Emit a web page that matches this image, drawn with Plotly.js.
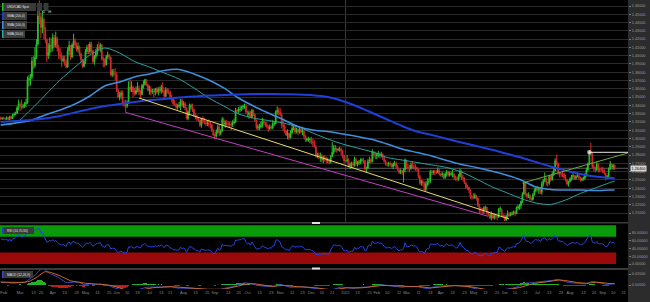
<!DOCTYPE html>
<html><head><meta charset="utf-8">
<script src="https://cdn.plot.ly/plotly-3.0.1.min.js"></script>
<style>html,body{margin:0;padding:0;background:#000;overflow:hidden}#chart{width:650px;height:302px}</style>
</head><body><div id="chart"></div>
<script>
// ---------- DATA (prices in 1e-4 units) ----------
const firstDay = '2020-02-12';
const warmupClose = [13060,13060,13060,13050,13060,13060,13110,13080,13140,13150,13180,13170,13180,13220,13235,13300,13290,13290,13300,13310,13310,13250];
const closeP = [
13240,13245,13240,13235,13250,13230,13265,13240,13285,13290,13305,13370,13415,
13390,13380,13385,13420,13430,13710,13720,13740,13935,13880,13980,14140,14480,14470,14340,14440,14320,14190,14000,14040,14130,14090,
14220,14130,14210,14090,14010,13990,13940,13960,13910,13860,14060,14120,13985,14130,14180,14130,14080,14110,14020,13950,13870,13930,
14050,14100,14050,14140,14060,13930,13990,14040,14100,14090,14130,13960,13950,13890,13990,14010,13980,13770,13810,13770,13770,
13580,13500,13520,13550,13430,13410,13390,13420,13620,13590,13620,13560,13540,13580,13610,13560,13530,13640,13650,13710,13650,13580,
13590,13560,13570,13560,13600,13560,13600,13570,13620,13560,13510,13590,13560,13560,13490,13480,13420,13410,13380,13390,13400,13460,13400,
13420,13370,13240,13320,13390,13390,13350,13280,13260,13240,13220,13160,13240,13210,13190,13180,13190,13170,13170,13100,13040,
13030,13080,13140,13060,13090,13230,13170,13190,13180,13170,13170,13160,13190,13200,13340,13330,13350,13350,13380,13390,13390,13320,
13290,13310,13260,13340,13290,13220,13130,13140,13140,13160,13210,13180,13170,13140,13120,13140,13130,13180,13180,13320,13340,13320,
13290,13160,13150,13090,13040,13060,13010,13070,13120,13130,13080,13110,13080,13110,13080,13090,13030,12980,12990,12990,12990,
12960,12950,12900,12790,12800,12790,12800,12740,12770,12750,12730,12740,12710,12780,12830,12880,12880,12860,12870,12870,12850,12790,12730,
12730,12740,12670,12680,12690,12680,12750,12690,12710,12710,12740,12740,12730,12630,12640,12720,12740,12720,12840,12800,12790,
12800,12820,12790,12810,12770,12720,12690,12690,12700,12690,12660,12690,12700,12660,12620,12590,12610,12590,12620,12740,
12650,12650,12640,12680,12660,12650,12650,12630,12540,12460,12480,12460,12380,12450,12480,12480,12600,12590,12600,12590,12590,12620,12570,
12560,12570,12530,12570,12600,12560,12570,12570,12570,12530,12510,12510,12540,12610,12530,12520,12460,12410,12410,12380,12300,12290,
12280,12310,12280,12190,12150,12140,12130,12160,12170,12110,12080,12040,12090,12040,12070,12050,12050,12150,12150,12070,12060,
12010,12060,12090,12070,12090,12090,12110,12090,12160,12170,12190,12240,12330,12465,12330,12300,12310,12270,12260,12320,12370,12400,
12380,12400,12350,12450,12490,12520,12470,12460,12540,12500,12560,12610,12730,12700,12590,12570,12570,12570,12530,12500,12450,12480,
12510,12540,12550,12520,12540,12550,12520,12500,12510,12520,12550,12620,12690,12840,12820,12660,12640,12620,12690,12620,12620,12620,
12620,12580,12530,12540,12630,12690,12650,12680,12640];
const highP = [
13265,13260,13262,13255,13268,13260,13275,13270,13300,13315,13325,13390,13470,
13440,13470,13420,13440,13480,13750,13770,13780,13985,14000,14100,14200,14550,14667,14520,14540,14460,14350,14210,14150,14220,14210,
14270,14250,14290,14230,14130,14090,14040,14000,14000,13950,14100,14180,14130,14150,14265,14210,14160,14160,14120,14040,13960,13950,
14080,14130,14140,14170,14170,14060,14010,14080,14140,14170,14150,14140,13990,13970,14010,14050,14020,13990,13840,13840,13850,
13800,13600,13560,13580,13580,13460,13470,13460,13690,13720,13690,13640,13610,13630,13680,13640,13590,13660,13700,13720,13715,13660,
13640,13630,13600,13600,13610,13620,13620,13630,13650,13680,13590,13620,13610,13600,13580,13530,13500,13470,13430,13420,13440,13480,13480,
13450,13440,13380,13340,13420,13420,13420,13360,13300,13290,13260,13230,13250,13270,13250,13220,13220,13230,13200,13180,13110,
13070,13110,13170,13170,13110,13260,13250,13220,13220,13210,13200,13200,13220,13240,13370,13360,13380,13400,13390,13410,13420,13420,
13340,13340,13330,13360,13350,13300,13230,13170,13180,13200,13250,13230,13200,13200,13160,13170,13160,13220,13210,13340,13390,13370,
13370,13300,13240,13170,13100,13110,13070,13100,13160,13170,13150,13130,13120,13140,13120,13140,13100,13040,13010,13020,13010,
13020,13000,12980,12920,12830,12830,12830,12810,12790,12800,12780,12770,12750,12800,12955,12920,12920,12890,12880,12900,12890,12860,12800,
12740,12800,12760,12710,12720,12720,12780,12770,12730,12740,12760,12760,12770,12740,12660,12750,12780,12760,12870,12850,12840,
12830,12850,12830,12840,12820,12790,12740,12710,12720,12720,12700,12710,12730,12720,12680,12630,12630,12620,12640,12760,
12730,12690,12680,12710,12720,12700,12690,12660,12630,12560,12500,12500,12480,12480,12520,12520,12620,12620,12620,12620,12620,12650,12630,
12580,12600,12580,12590,12620,12610,12600,12600,12620,12580,12550,12540,12570,12640,12600,12560,12530,12470,12440,12420,12380,12320,
12340,12340,12320,12290,12210,12170,12160,12180,12190,12170,12120,12090,12120,12090,12090,12090,12080,12160,12180,12150,12090,
12080,12080,12130,12110,12110,12120,12130,12130,12180,12200,12210,12250,12350,12490,12460,12340,12350,12330,12290,12340,12400,12420,
12430,12420,12410,12480,12510,12590,12530,12480,12560,12560,12600,12650,12760,12807,12710,12600,12590,12600,12590,12560,12510,12490,
12530,12560,12580,12560,12560,12590,12570,12540,12530,12540,12580,12650,12710,12860,12949,12820,12690,12660,12720,12700,12650,12650,
12660,12630,12580,12560,12650,12730,12700,12690,12680];
const lowP = [
13220,13225,13228,13222,13225,13218,13225,13230,13235,13265,13280,13295,13340,
13330,13350,13360,13370,13380,13420,13630,13640,13720,13840,13850,13960,14120,14380,14210,14270,14200,14150,13920,13960,14000,14040,
14050,14100,14100,14050,13960,13950,13860,13920,13880,13850,13860,14010,13950,13970,14090,14090,14050,14040,13990,13920,13850,13860,
13900,14020,14020,14020,14030,13900,13890,13960,14000,14060,14040,13940,13860,13860,13880,13960,13950,13750,13740,13750,13700,
13560,13490,13460,13480,13400,13380,13315,13370,13420,13560,13560,13490,13520,13530,13560,13520,13490,13520,13600,13640,13630,13570,
13530,13520,13540,13500,13520,13540,13520,13550,13540,13550,13490,13500,13540,13530,13470,13440,13400,13390,13350,13350,13370,13340,13380,
13370,13340,13230,13220,13280,13350,13320,13260,13230,13210,13200,13140,13130,13180,13170,13150,13150,13140,13120,13080,13030,
12994,13010,13060,13030,13040,13080,13150,13130,13150,13140,13140,13100,13140,13170,13190,13300,13300,13320,13330,13350,13360,13300,
13260,13240,13250,13240,13270,13200,13110,13100,13100,13120,13130,13160,13140,13120,13080,13100,13110,13110,13150,13170,13290,13280,
13270,13120,13090,13060,13030,12990,12980,13000,13050,13100,13050,13060,13040,13060,13060,13040,13000,12960,12960,12960,12940,
12930,12900,12890,12770,12760,12750,12720,12710,12700,12720,12700,12700,12690,12700,12780,12810,12840,12830,12850,12840,12800,12760,12700,
12720,12710,12650,12630,12650,12640,12660,12670,12660,12680,12690,12710,12700,12610,12590,12640,12700,12690,12710,12760,12750,
12750,12770,12760,12770,12740,12710,12670,12660,12660,12660,12650,12630,12670,12640,12610,12570,12570,12560,12470,12590,
12630,12610,12590,12620,12640,12620,12610,12600,12520,12440,12430,12420,12370,12365,12420,12440,12460,12560,12560,12560,12570,12580,12550,
12540,12530,12510,12510,12540,12540,12540,12550,12530,12500,12490,12480,12490,12530,12500,12480,12450,12390,12380,12340,12270,12260,
12270,12270,12250,12170,12090,12100,12090,12090,12130,12080,12060,12030,12010,12030,12020,12030,12010,12040,12110,12060,12040,
12007,12020,12030,12050,12060,12070,12080,12060,12090,12140,12140,12150,12220,12320,12310,12270,12280,12250,12250,12250,12310,12350,
12360,12330,12330,12320,12420,12470,12430,12420,12440,12480,12490,12550,12600,12680,12560,12530,12530,12530,12510,12480,12430,12420,
12470,12490,12500,12500,12500,12530,12500,12480,12480,12490,12500,12540,12600,12680,12790,12640,12600,12590,12610,12590,12590,12600,
12580,12560,12494,12510,12530,12620,12630,12620,12620];

const smaDates = ['2020-02-12','2020-02-26','2020-03-11','2020-03-25','2020-04-08','2020-04-22','2020-05-06','2020-05-20','2020-06-03','2020-06-17','2020-07-01','2020-07-15','2020-07-29','2020-08-12','2020-08-26','2020-09-09','2020-09-23','2020-10-07','2020-10-21','2020-11-04','2020-11-18','2020-12-02','2020-12-16','2020-12-30','2021-01-13','2021-01-27','2021-02-10','2021-02-24','2021-03-10','2021-03-24','2021-04-07','2021-04-21','2021-05-05','2021-05-19','2021-06-02','2021-06-16','2021-06-30','2021-07-14','2021-07-28','2021-08-11','2021-08-25','2021-09-08','2021-09-13'];
const sma200 = [1.3199,1.3211,1.3223,1.3241,1.3271,1.3314,1.3356,1.3392,1.3416,1.3441,1.3465,1.3477,1.3495,1.3507,1.3519,1.3525,1.3531,1.3537,1.3537,1.3535,1.3531,1.3523,1.3501,1.3453,1.3386,1.3308,1.3229,1.3151,1.3084,1.3042,1.2996,1.2951,1.2909,1.2866,1.2818,1.2770,1.2716,1.2661,1.2613,1.2571,1.2541,1.2523,1.2521];
const sma100 = [1.3163,1.3187,1.3217,1.3284,1.3344,1.3416,1.3513,1.3634,1.3682,1.3743,1.3779,1.3821,1.3833,1.3779,1.3706,1.3610,1.3489,1.3392,1.3308,1.3229,1.3145,1.3102,1.3084,1.3054,1.3024,1.2988,1.2933,1.2873,1.2831,1.2788,1.2734,1.2686,1.2650,1.2607,1.2559,1.2499,1.2414,1.2384,1.2378,1.2378,1.2372,1.2378,1.2378];
const sma50 = [1.3163,1.3187,1.3344,1.3525,1.3706,1.3863,1.4008,1.4093,1.4032,1.3930,1.3863,1.3791,1.3718,1.3610,1.3489,1.3392,1.3296,1.3247,1.3217,1.3187,1.3139,1.3066,1.2994,1.2933,1.2885,1.2837,1.2770,1.2740,1.2710,1.2680,1.2650,1.2595,1.2511,1.2420,1.2348,1.2275,1.2221,1.2203,1.2257,1.2336,1.2402,1.2468,1.2486];

// Drawn trend lines [dates], [prices]
const yellowDates = ['2020-06-22','2021-06-04'], yellowPx = [1.3489,1.2028];
const magentaDates = ['2020-06-09','2021-05-17'], magentaPx = [1.3315,1.2060];
const greenDates = ['2021-06-17','2021-09-24'], greenPx = [1.2462,1.2825];
const whiteDates = ['2021-08-19','2021-09-24'], whitePx = [1.2833,1.2833];

// Axis ticks
const priceTicks = [1.21,1.22,1.23,1.24,1.25,1.26,1.27,1.28,1.29,1.30,1.31,1.32,1.33,1.34,1.35,1.36,1.37,1.38,1.39,1.40,1.41,1.42,1.43,1.44,1.45,1.46];
const rsiTicks = [0,20,40,60,80];
const macdTicks = [0,0.02];
const tickDates = ['2020-02-14','2020-03-02','2020-03-13','2020-03-20','2020-04-01','2020-04-13','2020-04-23','2020-05-01','2020-05-13','2020-05-25','2020-06-01','2020-06-10','2020-06-19','2020-07-01','2020-07-13','2020-07-21','2020-08-03','2020-08-13','2020-08-25','2020-09-01','2020-09-14','2020-09-23','2020-10-01','2020-10-13','2020-10-23','2020-11-02','2020-11-12','2020-11-23','2020-12-01','2020-12-10','2020-12-21','2021-01-01','2021-01-13','2021-01-25','2021-02-01','2021-02-10','2021-02-22','2021-03-01','2021-03-11','2021-03-23','2021-04-01','2021-04-13','2021-04-23','2021-05-03','2021-05-13','2021-05-25','2021-06-01','2021-06-10','2021-06-21','2021-07-01','2021-07-13','2021-07-23','2021-08-02','2021-08-13','2021-08-24','2021-09-01','2021-09-10','2021-09-21'];
const tickText = ['Feb','Mar','13','20','Apr','13','23','May','13','25','Jun','10','19','Jul','13','21','Aug','13','25','Sep','14','23','Oct','13','23','Nov','12','23','Dec','10','21','2021','13','25','Feb','10','22','Mar','11','23','Apr','13','23','May','13','25','Jun','10','21','Jul','13','23','Aug','13','24','Sep','10','21'];

const RSI_N = 14, RSI_HI = 70, RSI_LO = 30;
const MACD_F = 12, MACD_S = 26, MACD_SIG = 9;

// ---------- BUILD ----------
function tradingDays(start, n){const out=[];const d=new Date(start+'T00:00:00Z');while(out.length<n){const w=d.getUTCDay();if(w!==0&&w!==6)out.push(d.toISOString().slice(0,10));d.setUTCDate(d.getUTCDate()+1);}return out;}
const N = closeP.length;
const dates = tradingDays(firstDay, N);
const close = closeP.map(v=>v/1e4);
const open = close.map((c,i)=> i===0 ? warmupClose[warmupClose.length-1]/1e4 : close[i-1]);
const high = highP.map((h,i)=>Math.max(h/1e4, open[i], close[i]));
const low = lowP.map((l,i)=>Math.min(l/1e4, open[i], close[i]));

const allC = warmupClose.map(v=>v/1e4).concat(close);
function rsiCalc(a,n){const out=new Array(a.length).fill(null);let g=0,l=0;for(let i=1;i<=n;i++){const d=a[i]-a[i-1];if(d>0)g+=d;else l-=d;}g/=n;l/=n;out[n]=100-100/(1+g/l);for(let i=n+1;i<a.length;i++){const d=a[i]-a[i-1];g=(g*(n-1)+Math.max(d,0))/n;l=(l*(n-1)+Math.max(-d,0))/n;out[i]=l===0?100:100-100/(1+g/l);}return out;}
function ema(a,n){const k=2/(n+1);const out=[a[0]];for(let i=1;i<a.length;i++)out.push(a[i]*k+out[i-1]*(1-k));return out;}
const W0 = warmupClose.length;
const rsi = rsiCalc(allC,RSI_N).slice(W0);
const e1=ema(allC,MACD_F), e2=ema(allC,MACD_S);
const macdAll = e1.map((v,i)=>v-e2[i]);
const sigAll = ema(macdAll,MACD_SIG);
const macd = macdAll.slice(W0), sig = sigAll.slice(W0);
const hist = macd.map((v,i)=>v-sig[i]);
const last = close[N-1];

// pixel helpers
const W=650,H=302,ML=0,MR=22,MT=0,MB=13, PW=W-ML-MR, PH=H-MT-MB;
const PY = p => (PH - (p-MT))/PH;
const PX = p => (p-ML)/PW;
const FONT = 'Liberation Sans, Arial, sans-serif';

const GREEN='#27c427', RED='#d42a2a';
const C200='#1f3fd6', C100='#3f8fdc', C50='#2aa3a3';

const traces = [
 {type:'candlestick', x:dates, open, high, low, close, xaxis:'x', yaxis:'y', hoverinfo:'skip', whiskerwidth:0,
  increasing:{line:{color:GREEN,width:1}, fillcolor:GREEN}, decreasing:{line:{color:RED,width:1}, fillcolor:RED}},
 {type:'scatter', mode:'lines', x:smaDates, y:sma50, line:{color:C50,width:1,shape:'spline',smoothing:0.8}, yaxis:'y', hoverinfo:'skip'},
 {type:'scatter', mode:'lines', x:smaDates, y:sma100, line:{color:C100,width:1.5,shape:'spline',smoothing:0.8}, yaxis:'y', hoverinfo:'skip'},
 {type:'scatter', mode:'lines', x:smaDates, y:sma200, line:{color:C200,width:2,shape:'spline',smoothing:0.8}, yaxis:'y', hoverinfo:'skip'},
 {type:'scatter', mode:'lines', x:yellowDates, y:yellowPx, line:{color:'#e6dc6a',width:1}, yaxis:'y', hoverinfo:'skip'},
 {type:'scatter', mode:'lines', x:magentaDates, y:magentaPx, line:{color:'#c43fc4',width:1}, yaxis:'y', hoverinfo:'skip'},
 {type:'scatter', mode:'lines', x:greenDates, y:greenPx, line:{color:'#6aa83a',width:1}, yaxis:'y', hoverinfo:'skip'},
 {type:'scatter', mode:'lines+markers', x:whiteDates, y:whitePx, line:{color:'#e8e8e8',width:1}, marker:{symbol:'square',size:[3,0],color:'#fff'}, yaxis:'y', hoverinfo:'skip'},
 {type:'scatter', mode:'lines', x:dates, y:rsi, line:{color:'#2246e0',width:1}, yaxis:'y2', hoverinfo:'skip'},
 {type:'bar', x:dates, y:hist, marker:{color:hist.map(v=>v>=0?'#22b422':'#c41c1c'), line:{width:0}}, yaxis:'y3', hoverinfo:'skip'},
 {type:'scatter', mode:'lines', x:dates, y:macd, line:{color:'#3648c8',width:1}, yaxis:'y3', hoverinfo:'skip'},
 {type:'scatter', mode:'lines', x:dates, y:sig, line:{color:'#c8682a',width:1}, yaxis:'y3', hoverinfo:'skip'}
];

const tickFont = {family:FONT, size:3.8, color:'#9a9a9a'};
const yBase = {side:'right', anchor:'x', tickformat:'.5f', tickfont:tickFont, zeroline:false, showline:false, ticks:'outside', ticklen:2, tickcolor:'#777', fixedrange:true};

const shapes = [];
function rectPx(x0,x1,y0,y1,color){shapes.push({type:'rect',xref:'paper',yref:'paper',x0:PX(x0),x1:PX(x1),y0:PY(y1),y1:PY(y0),fillcolor:color,line:{width:0},layer:'above'});}
// right axis panel
shapes.push({type:'rect',xref:'paper',yref:'paper',x0:1,x1:PX(W),y0:PY(H),y1:1,fillcolor:'#2c2c2c',line:{width:0},layer:'below'});
// RSI zones
const xStart='2020-02-11 12:00', xEnd='2021-09-24';
shapes.push({type:'rect',xref:'x',yref:'y2',x0:xStart,x1:'2021-09-14',y0:RSI_HI,y1:100,fillcolor:'#0a9a0a',line:{width:0},layer:'below'});
shapes.push({type:'rect',xref:'x',yref:'y2',x0:xStart,x1:'2021-09-14',y0:0,y1:RSI_LO,fillcolor:'#9a0a0a',line:{width:0},layer:'below'});
// year divider and last-price line
shapes.push({type:'line',xref:'x',yref:'paper',x0:'2021-01-01',x1:'2021-01-01',y0:PY(222),y1:1,line:{color:'#3a3a3a',width:1},layer:'below'});
shapes.push({type:'line',xref:'paper',yref:'y',x0:0,x1:1,y0:last,y1:last,line:{color:'#5c5c5c',width:1},layer:'below'});
// panel separators + handles
rectPx(0,PW,222,223.5,'#3a3a3a');
rectPx(0,PW,268,270,'#3a3a3a');
rectPx(312,320,222,224,'#e0e0e0');
rectPx(312,320,267.5,269.5,'#e0e0e0');
// legend boxes
const legends = [
 {t:'USD/CAD Spot', y0:3, y1:11, x1:36, c:GREEN},
 {t:'SMA (200,0)', y0:12, y1:20, x1:27, c:C200},
 {t:'SMA (100,0)', y0:21, y1:29, x1:27, c:C100},
 {t:'SMA (50,0)', y0:30, y1:38, x1:25, c:C50},
 {t:'RSI (14,70,30)', y0:227, y1:234, x1:34, c:'#2246e0'},
 {t:'MACD (12,26,9)', y0:271, y1:278, x1:33, c:'#3648c8'}
];
const annotations = [];
legends.forEach(l=>{
  rectPx(2,l.x1,l.y0,l.y1,'#3a3a3a');
  rectPx(2,3.5,l.y0,l.y1,l.c);
  annotations.push({xref:'paper',yref:'paper',x:PX(5),y:PY((l.y0+l.y1)/2),xanchor:'left',yanchor:'middle',text:l.t,showarrow:false,font:{family:FONT,size:3.2,color:'#e6e6e6'}});
});
rectPx(37,42,3,11,'#3a3a3a');
rectPx(43.5,48.5,3,11,'#3a3a3a');
annotations.push({xref:'paper',yref:'paper',x:PX(39.5),y:PY(7),text:'↻',showarrow:false,font:{family:'DejaVu Sans',size:4,color:'#ccc'}});
annotations.push({xref:'paper',yref:'paper',x:PX(46),y:PY(7),text:'⊟',showarrow:false,font:{family:'DejaVu Sans',size:4,color:'#ccc'}});
// last price tag
annotations.push({xref:'paper',yref:'y',x:PX(630),y:last,xanchor:'left',yanchor:'middle',text:last.toFixed(5),showarrow:false,bgcolor:'#d6d6d6',borderpad:0.6,font:{family:FONT,size:3.8,color:'#000'}});

const layout = {
  width:W, height:H, margin:{l:ML,r:MR,t:MT,b:MB,pad:0},
  paper_bgcolor:'#000', plot_bgcolor:'#000', showlegend:false, bargap:0,
  xaxis:{type:'date', range:[xStart,xEnd], rangebreaks:[{bounds:['sat','mon']}], anchor:'y3',
    rangeslider:{visible:false}, showgrid:false, zeroline:false, showline:false, ticks:'',
    tickvals:tickDates, ticktext:tickText, tickangle:0, tickfont:{family:FONT,size:3.9,color:'#8a8a8a'}, fixedrange:true},
  yaxis:Object.assign({}, yBase, {domain:[PY(222),1], range:[1.19913,1.46725], tickvals:priceTicks, showgrid:true, gridcolor:'#2a2a2a', gridwidth:1}),
  yaxis2:Object.assign({}, yBase, {domain:[PY(268),PY(223.5)], range:[-10.3,104.5], tickvals:rsiTicks, showgrid:false}),
  yaxis3:Object.assign({}, yBase, {domain:[0,PY(270)], range:[-0.00727,0.02727], tickvals:macdTicks, showgrid:false}),
  shapes, annotations
};
Plotly.newPlot('chart', traces, layout, {staticPlot:true, displayModeBar:false});
</script>
</body></html>
